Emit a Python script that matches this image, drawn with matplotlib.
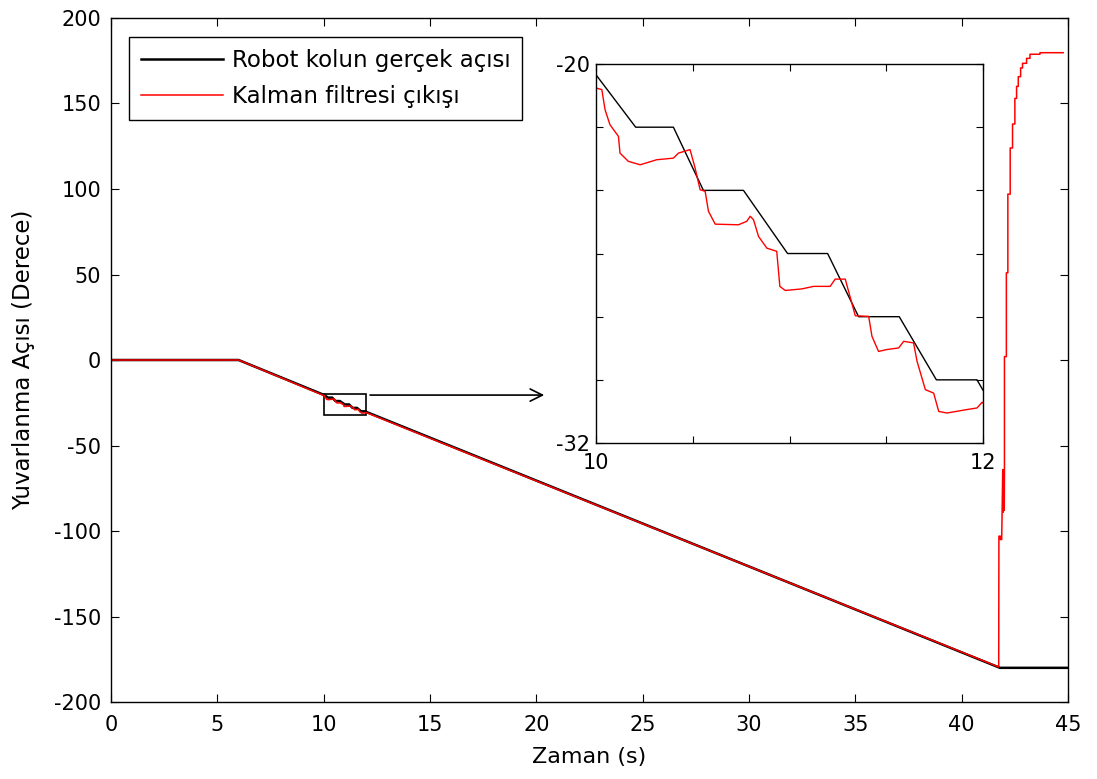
import numpy as np
import matplotlib
matplotlib.use("Agg")
import matplotlib.pyplot as plt

plt.rcParams['font.family'] = ['DejaVu Sans']
plt.rcParams['axes.unicode_minus'] = False

# gercek aci (siyah) - kirilma noktalari, inset bolgesi detayli
true_t = [0, 6, 10.0, 10.205, 10.40, 10.555, 10.762, 10.99, 11.197, 11.357,
          11.567, 11.759, 11.969, 12.0, 41.8, 44.95]
true_y = [0, 0, -20.34, -22.0, -22.0, -24.0, -24.0, -26.0, -26.0, -28.0,
          -28.0, -30.0, -30.0, -30.33, -180, -180]

# kalman cikisi (kirmizi) - inset bolgesi
kal_in_t = [10.0, 10.03, 10.047, 10.072, 10.116, 10.124, 10.167, 10.228, 10.314,
            10.40, 10.426, 10.486, 10.512, 10.538, 10.564, 10.581, 10.616, 10.736,
            10.779, 10.797, 10.814, 10.84, 10.883, 10.934, 10.95, 10.978, 11.064,
            11.124, 11.21, 11.236, 11.288, 11.322, 11.34, 11.409, 11.426, 11.46,
            11.503, 11.564, 11.59, 11.641, 11.659, 11.702, 11.745, 11.771, 11.814,
            11.917, 11.969, 11.995]
kal_in_y = [-20.76, -20.81, -21.45, -21.92, -22.29, -22.82, -23.08, -23.19, -23.03,
            -22.98, -22.82, -22.71, -23.29, -23.98, -24.03, -24.66, -25.07, -25.09,
            -24.98, -24.82, -24.93, -25.46, -25.83, -25.93, -27.04, -27.17, -27.12,
            -27.04, -27.04, -26.81, -26.81, -27.57, -27.97, -27.99, -28.62, -29.10,
            -29.04, -28.99, -28.78, -28.83, -29.41, -30.31, -30.42, -31.0, -31.05,
            -30.94, -30.89, -30.71]

# kalman cikisi - son kisim (ani sicrama)
kal_end_t = [41.74, 41.75, 41.82, 41.82, 41.88, 41.9, 41.93, 41.95, 41.97, 42.0,
             42.01, 42.01, 42.10, 42.10, 42.17, 42.17, 42.28, 42.28, 42.39, 42.39,
             42.50, 42.50, 42.58, 42.58, 42.66, 42.66, 42.77, 42.77, 42.86, 42.86,
             43.05, 43.05, 43.21, 43.21, 43.68, 43.68, 44.77]
kal_end_y = [-179.5, -103, -103, -105, -105, -89, -64, -89, -66, -88,
             -64, 2, 2, 51, 51, 97, 97, 124, 124, 138,
             138, 153, 153, 160, 160, 165.7, 165.7, 170.8, 170.8, 173.5,
             173.5, 176.4, 176.4, 178.8, 178.8, 179.7, 179.7]

kal_t = [0, 6] + kal_in_t + kal_end_t
kal_y = [0, 0] + kal_in_y + kal_end_y

fs = 15

fig = plt.figure(figsize=(10.97, 7.79), dpi=100)
ax = fig.add_axes([0.1012, 0.0988, 0.8724, 0.8781])
ax.plot(true_t, true_y, color='black', lw=1.8, label='Robot kolun gerçek açısı')
ax.plot(kal_t, kal_y, color='red', lw=1.1, label='Kalman filtresi çıkışı')
ax.set_xlim(0, 45)
ax.set_ylim(-200, 200)
ax.set_xticks(np.arange(0, 46, 5))
ax.set_yticks(np.arange(-200, 201, 50))
ax.tick_params(direction='in', top=True, right=True, labelsize=fs, length=6)
ax.tick_params(axis='x', pad=9)
ax.tick_params(axis='y', pad=7)
for s in ax.spines.values():
    s.set_linewidth(1.0)
ax.set_xlabel('Zaman (s)', fontsize=16, labelpad=9)
ax.set_ylabel('Yuvarlanma Açısı (Derece)', fontsize=16.5, labelpad=14)
leg = ax.legend(loc='upper left', bbox_to_anchor=(0.019, 0.972), fontsize=16.5,
                frameon=True, fancybox=False, edgecolor='black', handlelength=3.6,
                handletextpad=0.4, borderaxespad=0, borderpad=0.5,
                labelspacing=0.6, framealpha=1)
leg.get_frame().set_linewidth(1.0)

# buyutulen bolge ve ok
ax.add_patch(plt.Rectangle((10, -32), 2, 12, fill=False, edgecolor='black', lw=1.2))
ax.annotate('', xy=(20.5, -20.5), xytext=(12.05, -20.5),
            arrowprops=dict(arrowstyle='->', color='black', lw=1.2,
                            mutation_scale=22))

# inset
ins = fig.add_axes([0.5433, 0.4313, 0.3528, 0.4865])
ins.plot(true_t, true_y, color='black', lw=1.0)
ins.plot(kal_t, kal_y, color='red', lw=1.0)
ins.set_xlim(10, 12)
ins.set_ylim(-32, -20)
ins.set_xticks([10, 10.5, 11, 11.5, 12])
ins.set_xticklabels(['10', '', '', '', '12'])
ins.set_yticks([-32, -30, -28, -26, -24, -22, -20])
ins.set_yticklabels(['-32', '', '', '', '', '', '-20'])
ins.tick_params(direction='in', top=True, right=True, labelsize=fs, length=5)
ins.tick_params(axis='x', pad=7)
ins.tick_params(axis='y', pad=4)
for s in ins.spines.values():
    s.set_linewidth(1.0)

fig.savefig('out.png', dpi=100)
